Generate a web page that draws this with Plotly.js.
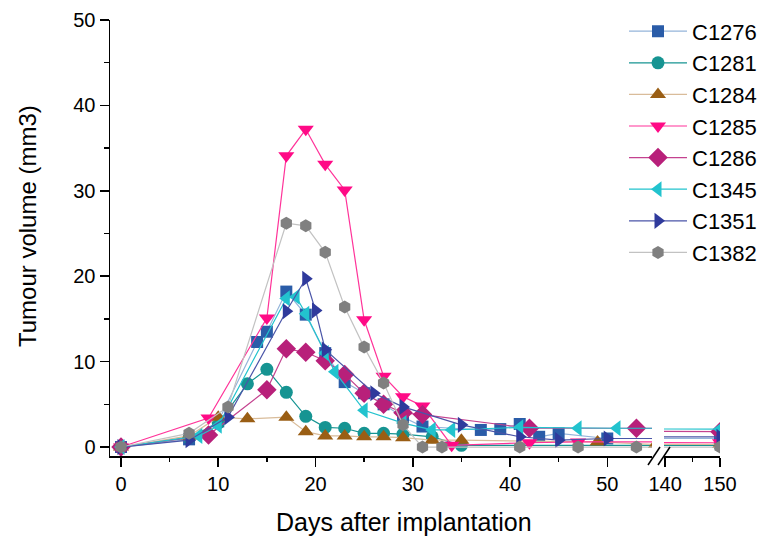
<!DOCTYPE html>
<html>
<head>
<meta charset="utf-8">
<script src="https://cdn.plot.ly/plotly-3.0.1.min.js"></script>
<style>html,body{margin:0;padding:0;background:#fff;}#chart{width:773px;height:538px;}</style>
</head>
<body>
<div id="chart"></div>
<script>
// ---- data (days after implantation, tumour volume mm3) ----
const days1276 = [0, 7, 10, 14, 15, 17, 19, 21, 23, 25, 27, 29, 31, 37, 39, 41, 43, 45, 50, 150];
const vol1276  = [0, 0.9, 3.0, 12.3, 13.5, 18.2, 15.5, 11.0, 7.6, 6.3, 5.0, 3.5, 2.4, 2.0, 2.1, 2.7, 1.2, 1.6, 1.0, 1.0];

const days1281 = [0, 7, 10, 13, 15, 17, 19, 21, 23, 25, 27, 29, 32, 35, 150];
const vol1281  = [0, 1.1, 2.8, 7.4, 9.1, 6.4, 3.6, 2.3, 2.2, 1.6, 1.6, 1.5, 1.2, 0.2, 0.2];

const days1284 = [0, 7, 10, 13, 17, 19, 21, 23, 25, 27, 29, 32, 35, 49, 55, 150];
const vol1284  = [0, 1.3, 3.5, 3.3, 3.5, 1.8, 1.3, 1.3, 1.2, 1.2, 1.1, 0.8, 0.8, 0.6, 0.3, 0.3];

const days1285 = [0, 9, 15, 17, 19, 21, 23, 25, 27, 29, 31, 34, 42, 47, 150];
const vol1285  = [0, 3.4, 15.1, 34.1, 37.2, 33.1, 30.1, 14.9, 8.3, 5.9, 4.8, 0.2, 0.5, 0.6, 0.5];

const days1286 = [0, 9, 15, 17, 19, 21, 23, 25, 27, 29, 31, 42, 53, 150];
const vol1286  = [0, 1.4, 6.7, 11.5, 11.1, 10.1, 8.5, 6.3, 5.0, 4.0, 3.8, 2.2, 2.2, 1.8];

const days1345 = [0, 8, 10, 17, 18, 19, 21, 22, 25, 29, 32, 34, 41, 47, 51, 150];
const vol1345  = [0, 1.3, 2.5, 17.4, 17.6, 15.6, 11.0, 8.8, 4.3, 2.8, 2.0, 2.0, 2.3, 2.2, 2.2, 2.1];

const days1351 = [0, 7, 11, 17, 19, 20, 21, 26, 29, 35, 41, 45, 50, 55, 150];
const vol1351  = [0, 0.8, 3.5, 15.9, 19.7, 16.0, 11.4, 6.3, 4.7, 2.6, 1.2, 0.8, 1.0, 1.0, 1.2];

const days1382 = [0, 7, 11, 17, 19, 21, 23, 25, 27, 29, 31, 33, 41, 47, 53, 150];
const vol1382  = [0, 1.6, 4.7, 26.2, 25.9, 22.8, 16.4, 11.7, 7.5, 2.6, 0, 0, 0, 0, 0, 0];

const seriesNames = ['C1276','C1281','C1284','C1285','C1286','C1345','C1351','C1382'];
const xTicks1 = [0, 10, 20, 30, 40, 50];
const xTicks2 = [140, 150];
const yTicks  = [0, 10, 20, 30, 40, 50];

// ---- styles ----
const styles = [
  {sym:'square',         mc:'#2A5CA8', lc:'#94B4DA', sz:12},
  {sym:'circle',         mc:'#169492', lc:'#169492', sz:13},
  {sym:'triangle-up',    mc:'#9A5E14', lc:'#D9BC9A', sz:14},
  {sym:'triangle-down',  mc:'#FF0A86', lc:'#FF3399', sz:14},
  {sym:'diamond',        mc:'#B8207A', lc:'#C4428F', sz:15},
  {sym:'triangle-left',  mc:'#22C3CE', lc:'#22C3CE', sz:14},
  {sym:'triangle-right', mc:'#2F3A9C', lc:'#4A55A8', sz:14},
  {sym:'hexagon',        mc:'#808080', lc:'#C2C2C2', sz:13}
];
const xs = [days1276, days1281, days1284, days1285, days1286, days1345, days1351, days1382];
const ys = [vol1276, vol1281, vol1284, vol1285, vol1286, vol1345, vol1351, vol1382];

const traces = [];
seriesNames.forEach((nm, i) => {
  const st = styles[i];
  const base = {
    type:'scatter', mode:'lines+markers', x: xs[i], y: ys[i], name: nm,
    legendgroup: nm,
    line:{color: st.lc, width:1.2},
    marker:{symbol: st.sym, color: st.mc, size: st.sz, line:{width:0}},
    cliponaxis: true
  };
  traces.push(Object.assign({}, base, {xaxis:'x', yaxis:'y', showlegend:true}));
  traces.push(Object.assign({}, base, {xaxis:'x2', yaxis:'y', showlegend:false}));
});

const FAM = 'Liberation Sans, Arial, sans-serif';
const axisFont = {family:FAM, size:20, color:'#000'};
const d1 = 542/610, d2 = 554/610;
const minorStyle = {ticklen:4.5, tickwidth:1.5, tickcolor:'#000', ticks:'outside'};

const layout = {
  width:773, height:538,
  margin:{l:110, r:53, t:20, b:82, autoexpand:false},
  paper_bgcolor:'#fff', plot_bgcolor:'#fff',
  font:{family:FAM, color:'#000'},
  showlegend:true,
  legend:{x:(624-110)/610, y:1.022, xanchor:'left', yanchor:'top', bgcolor:'rgba(0,0,0,0)',
          font:{size:22, family:FAM}, tracegroupgap:0, itemwidth:58},
  xaxis:{domain:[0, d1], range:[-1.13, 54.6], showline:true, linecolor:'#000', linewidth:1.5,
         ticks:'outside', ticklen:9, tickwidth:1.5, tickcolor:'#000', tickvals:xTicks1,
         minor:Object.assign({tickvals:[5,15,25,35,45]}, minorStyle),
         showgrid:false, zeroline:false, tickfont:axisFont, anchor:'y'},
  xaxis2:{domain:[d2, 1], range:[139.8, 150], showline:true, linecolor:'#000', linewidth:1.5,
         ticks:'outside', ticklen:9, tickwidth:1.5, tickcolor:'#000', tickvals:xTicks2,
         minor:Object.assign({tickvals:[145]}, minorStyle),
         showgrid:false, zeroline:false, tickfont:axisFont, anchor:'y'},
  yaxis:{range:[-1.05, 50], showline:true, linecolor:'#000', linewidth:1.5,
         ticks:'outside', ticklen:9, tickwidth:1.5, tickcolor:'#000', tickvals:yTicks,
         minor:Object.assign({tickvals:[5,15,25,35,45]}, minorStyle),
         showgrid:false, zeroline:false, tickfont:axisFont},
  annotations:[
    {text:'Days after implantation', xref:'paper', yref:'paper', x:0.482, y:-0.151,
     xanchor:'center', yanchor:'middle', showarrow:false,
     font:{size:25, family:FAM, color:'#000'}},
    {text:'Tumour volume (mm3)', xref:'paper', yref:'paper', x:-0.136, y:0.5275,
     xanchor:'center', yanchor:'middle', textangle:-90, showarrow:false,
     font:{size:24, family:FAM, color:'#000'}}
  ],
  shapes:[
    {type:'line', xref:'paper', yref:'paper', x0:(648-110)/610, y0:-0.0206, x1:(660-110)/610, y1:0.0206,
     line:{color:'#000', width:1.5}},
    {type:'line', xref:'paper', yref:'paper', x0:(658-110)/610, y0:-0.0206, x1:(670-110)/610, y1:0.0206,
     line:{color:'#000', width:1.5}}
  ]
};

Plotly.newPlot('chart', traces, layout, {staticPlot:true});
</script>
</body>
</html>
